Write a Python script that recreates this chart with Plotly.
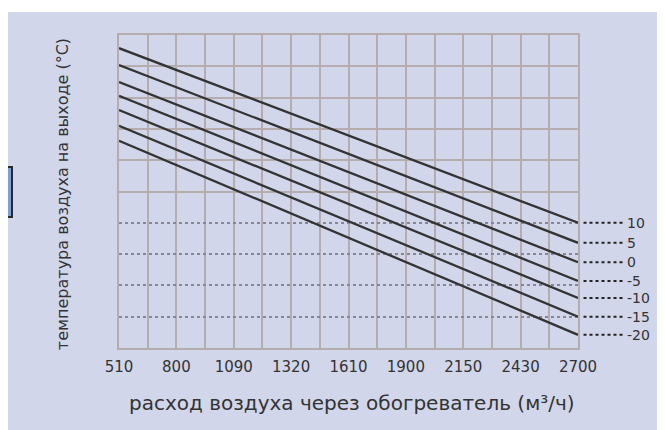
import numpy as np
import plotly.graph_objects as go

# ---- data ----
inlet_temps = ["10", "5", "0", "-5", "-10", "-15", "-20"]
flow_x = [510, 2700]                     # air flow range (m3/h)
outlet_start = [47.9, 45.2, 42.5, 40.3, 38.0, 35.5, 33.1]   # at 510 m3/h
outlet_end = [20.0, 16.8, 13.7, 10.7, 8.0, 5.0, 2.1]        # at 2700 m3/h
x_tick_labels = ["510", "800", "1090", "1320", "1610", "1900", "2150", "2430", "2700"]

FONT = "DejaVu Sans"
LINE_COL = "#333333"
GRID_COL = "#b5adad"
TEXT_COL = "#333333"

fig = go.Figure()
for name, a, b in zip(inlet_temps, outlet_start, outlet_end):
    fig.add_trace(go.Scatter(x=flow_x, y=[a, b], mode="lines", name=name,
                             line=dict(color=LINE_COL, width=2.3),
                             showlegend=False, hoverinfo="skip"))

# right-hand labels with dotted leaders
shapes = []
annotations = []
for name, b in zip(inlet_temps, outlet_end):
    shapes.append(dict(type="line", xref="x domain", yref="y",
                       x0=1.012, x1=1.1, y0=b, y1=b,
                       line=dict(color="#222", width=2, dash="dot")))
    annotations.append(dict(xref="x domain", yref="y", x=1.103, y=b,
                            text=name, showarrow=False, xanchor="left",
                            font=dict(family=FONT, size=14, color=TEXT_COL)))

# patterned background (approximated by a flat colour) and left blue box
shapes.insert(0, dict(type="rect", xref="paper", yref="paper", layer="below",
                      x0=-0.2418, x1=1.2, y0=-0.27, y1=1.0735,
                      fillcolor="#d2d6ea", line=dict(width=0)))
shapes.append(dict(type="rect", xref="paper", yref="paper",
                   x0=-0.26, x1=-0.2331, y0=0.4185, y1=0.578,
                   fillcolor="#7ba0d6", line=dict(color="#2a2a2a", width=2)))

annotations.append(dict(xref="paper", yref="paper", x=-0.123, y=0.49,
                        xanchor="center", yanchor="middle",
                        text="температура воздуха на выходе (°C)", textangle=-90,
                        showarrow=False, font=dict(family=FONT, size=16, color=TEXT_COL)))
annotations.append(dict(xref="paper", yref="paper", x=0.508, y=-0.176,
                        xanchor="center", yanchor="middle",
                        text="расход воздуха через обогреватель (м³/ч)",
                        showarrow=False, font=dict(family=FONT, size=20, color=TEXT_COL)))

tick_pos = np.linspace(flow_x[0], flow_x[1], len(x_tick_labels))
minor_step = (flow_x[1] - flow_x[0]) / 16

fig.update_layout(
    width=657, height=422,
    margin=dict(l=111, r=87, t=27, b=82),
    paper_bgcolor="white", plot_bgcolor="white",
    shapes=shapes, annotations=annotations,
    xaxis=dict(range=flow_x, tickvals=tick_pos, ticktext=x_tick_labels,
               showgrid=True, gridcolor=GRID_COL, gridwidth=2,
               minor=dict(tick0=flow_x[0], dtick=minor_step, showgrid=True,
                          gridcolor=GRID_COL, gridwidth=2),
               showline=True, linecolor=GRID_COL, linewidth=2, mirror=True,
               zeroline=False, ticks="", ticklabelstandoff=4,
               tickfont=dict(family=FONT, size=15, color=TEXT_COL)),
    yaxis=dict(range=[0, 50], tickvals=[25, 30, 35, 40, 45], showticklabels=False,
               showgrid=True, gridcolor=GRID_COL, gridwidth=2,
               showline=True, linecolor=GRID_COL, linewidth=2, mirror=True,
               zeroline=False, ticks=""),
    yaxis2=dict(range=[0, 50], overlaying="y", tickvals=[5, 10, 15, 20],
                showticklabels=False, showgrid=True, gridcolor="#8a8593",
                gridwidth=2, griddash="dot", zeroline=False, ticks=""),
)
# an invisible trace to activate yaxis2
fig.add_trace(go.Scatter(x=[flow_x[0]], y=[0], yaxis="y2", mode="markers",
                         marker=dict(opacity=0), showlegend=False, hoverinfo="skip"))

fig.write_html("out.html")
